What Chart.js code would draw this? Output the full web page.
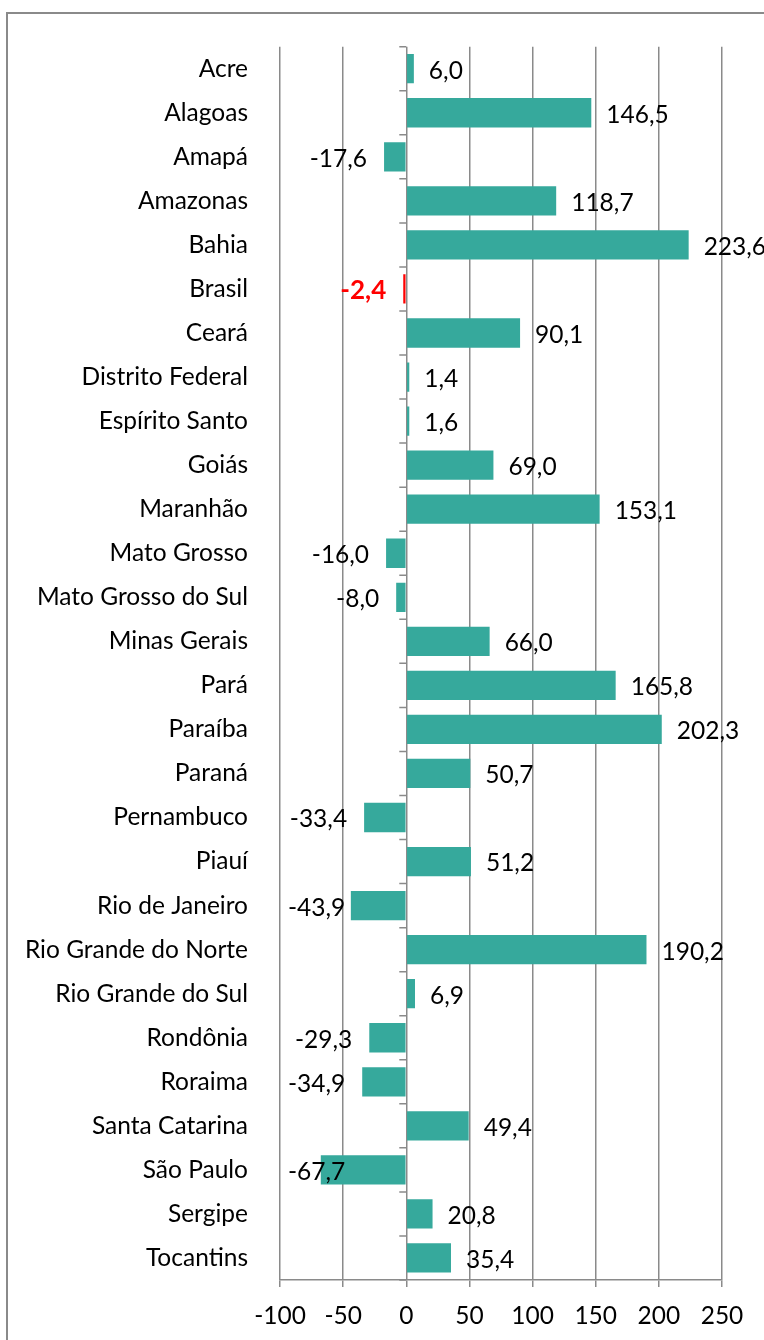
<!DOCTYPE html>
<html>
<head>
<meta charset="utf-8">
<script src="https://cdn.jsdelivr.net/npm/chart.js@4.4.0/dist/chart.umd.min.js"></script>
<style>
  html, body { margin: 0; padding: 0; background: #fff; overflow: hidden; }
  #frame { position: absolute; left: 6px; top: 12px; width: 820px; height: 1400px; border: 2px solid #8a8a8a; box-sizing: border-box; }
  #wrap { position: absolute; left: 0; top: 0; width: 764px; height: 1340px; }
</style>
</head>
<body>
<div id="frame"></div>
<div id="wrap"><canvas id="chart" width="764" height="1340"></canvas></div>
<script>
// categories and values
const states = [
  'Acre', 'Alagoas', 'Amapá', 'Amazonas', 'Bahia', 'Brasil', 'Ceará',
  'Distrito Federal', 'Espírito Santo', 'Goiás', 'Maranhão', 'Mato Grosso',
  'Mato Grosso do Sul', 'Minas Gerais', 'Pará', 'Paraíba', 'Paraná',
  'Pernambuco', 'Piauí', 'Rio de Janeiro', 'Rio Grande do Norte',
  'Rio Grande do Sul', 'Rondônia', 'Roraima', 'Santa Catarina', 'São Paulo',
  'Sergipe', 'Tocantins'
];
const growth = [
  6.0, 146.5, -17.6, 118.7, 223.6, -2.4, 90.1,
  1.4, 1.6, 69.0, 153.1, -16.0,
  -8.0, 66.0, 165.8, 202.3, 50.7,
  -33.4, 51.2, -43.9, 190.2,
  6.9, -29.3, -34.9, 49.4, -67.7,
  20.8, 35.4
];
const highlight = 'Brasil';
const xMin = -100;
const xMax = 250;
const xStep = 50;

const FONT = 'Lato';
const TEAL = '#36a99c';
const GRID = '#8a8a8a';

const fmt = v => v.toFixed(1).replace('.', ',');

// small ticks on the zero line between categories
const zeroAxis = {
  id: 'zeroAxis',
  beforeDatasetsDraw(chart) {
    const { ctx, scales: { x, y } } = chart;
    const x0 = x.getPixelForValue(0);
    const half = (y.getPixelForValue(1) - y.getPixelForValue(0)) / 2;
    ctx.save();
    ctx.strokeStyle = GRID;
    ctx.lineWidth = 1.5;
    ctx.beginPath();
    for (let i = 0; i <= states.length; i++) {
      const py = y.getPixelForValue(i) - half;
      ctx.moveTo(x0 - 7, py);
      ctx.lineTo(x0, py);
    }
    ctx.stroke();
    ctx.restore();
  }
};

// value labels outside the bar ends
const valueLabels = {
  id: 'valueLabels',
  afterDatasetsDraw(chart) {
    const { ctx, chartArea } = chart;
    const meta = chart.getDatasetMeta(0);
    ctx.save();
    ctx.textBaseline = 'middle';
    meta.data.forEach((bar, i) => {
      const v = growth[i];
      const hi = states[i] === highlight;
      const txt = fmt(v);
      ctx.font = hi ? 'bold 26px ' + FONT : '24.5px ' + FONT;
      ctx.fillStyle = hi ? '#ff0000' : '#000';
      const ty = bar.y + 2;
      if (v >= 0) {
        ctx.textAlign = 'left';
        ctx.fillText(txt, bar.x + 15, ty);
      } else {
        const w = ctx.measureText(txt).width;
        ctx.textAlign = 'right';
        ctx.fillText(txt, Math.max(bar.x - 17, chartArea.left + 8 + w), ty);
      }
    });
    ctx.restore();
  }
};

new Chart(document.getElementById('chart'), {
  type: 'bar',
  data: {
    labels: states,
    datasets: [{
      data: growth,
      backgroundColor: states.map(s => s === highlight ? '#ff0000' : TEAL),
      borderWidth: 0,
      minBarLength: 3,
      categoryPercentage: 1,
      barPercentage: 0.665
    }]
  },
  options: {
    indexAxis: 'y',
    responsive: false,
    animation: false,
    layout: { padding: { top: 45, right: 42, bottom: 0, left: 0 } },
    plugins: { legend: { display: false }, tooltip: { enabled: false } },
    scales: {
      x: {
        min: xMin,
        max: xMax,
        afterFit(scale) { scale.height = 60; },
        ticks: {
          stepSize: xStep,
          padding: 14,
          color: '#000',
          font: { family: FONT, size: 24.5 },
          callback: v => String(v)
        },
        grid: { color: GRID, lineWidth: 1.5, tickLength: 7, drawTicks: true },
        border: { color: GRID, width: 1.5 }
      },
      y: {
        afterFit(scale) { scale.width = 280; },
        ticks: {
          padding: 32,
          color: '#000',
          font: { family: FONT, size: 24.5 }
        },
        grid: { display: false, drawTicks: false },
        border: { display: false }
      }
    }
  },
  plugins: [zeroAxis, valueLabels]
});
</script>
</body>
</html>
